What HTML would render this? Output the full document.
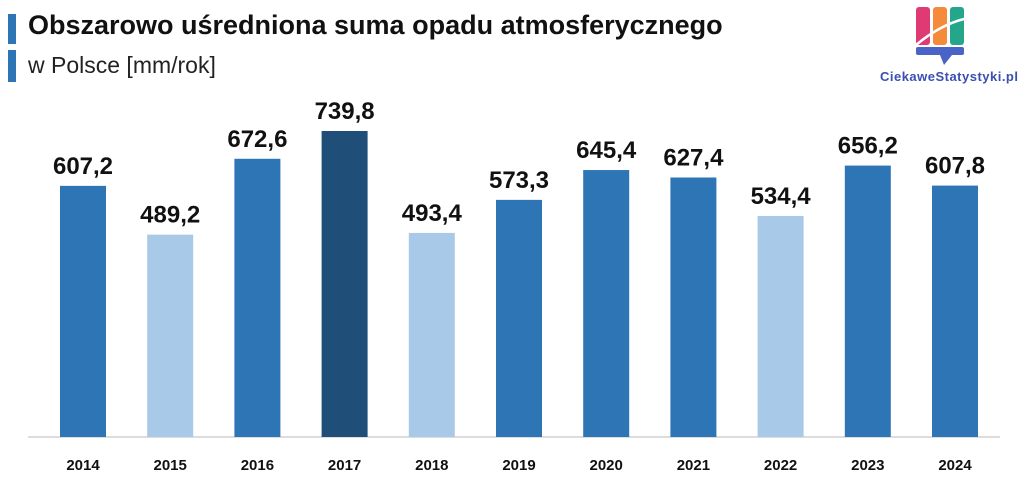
<!DOCTYPE html>
<html><head><meta charset="utf-8"><style>
body{margin:0;width:1024px;height:490px;background:#fff;overflow:hidden;font-family:"Liberation Sans",sans-serif;position:relative}
.t{position:absolute;left:28px;top:10px;font-size:27px;font-weight:bold;color:#111;white-space:nowrap}
.s{position:absolute;left:28px;top:52px;font-size:23px;color:#222}
.bar{position:absolute;left:8px;width:8px;background:#2e75b6}
</style></head><body>
<div class="bar" style="top:14px;height:30px"></div>
<div class="bar" style="top:50px;height:32px"></div>
<div class="t">Obszarowo uśredniona suma opadu atmosferycznego</div>
<div class="s">w Polsce [mm/rok]</div>
<svg style="position:absolute;left:876px;top:3px" width="146" height="90">
<rect x="40" y="4" width="14" height="38" rx="3" fill="#e03a75"/>
<rect x="57" y="4" width="14" height="38" rx="3" fill="#f58a3a"/>
<rect x="74" y="4" width="14" height="38" rx="3" fill="#25a58a"/>
<path d="M40 42 Q64 22 88 16" stroke="#fff" stroke-width="2.5" fill="none"/>
<rect x="40" y="44" width="48" height="8" rx="2" fill="#4a63c6"/>
<path d="M64 52 L76 52 L68 62Z" fill="#4a63c6"/>
<text x="4" y="78" font-size="13" font-weight="bold" fill="#3a4fb0" textLength="138" font-family="Liberation Sans,sans-serif">CiekaweStatystyki.pl</text>
</svg>
<svg id="c" style="position:absolute;left:0;top:0" width="1024" height="490"></svg>
<script>
const years=["2014","2015","2016","2017","2018","2019","2020","2021","2022","2023","2024"];
const values=[607.2,489.2,672.6,739.8,493.4,573.3,645.4,627.4,534.4,656.2,607.8];
const labels=["607,2","489,2","672,6","739,8","493,4","573,3","645,4","627,4","534,4","656,2","607,8"];
const shade=["m","l","m","d","l","m","m","m","l","m","m"];
const cols={m:"#2e75b6",l:"#a9c9e8",d:"#1f4e79"};
const svg=document.getElementById('c'),NS="http://www.w3.org/2000/svg";
const y0=437,k=306/739.8;
const x=i=>83+i*87.2;
const y=v=>y0-v*k;
function mk(t,a){const e=document.createElementNS(NS,t);for(const n in a)e.setAttribute(n,a[n]);svg.appendChild(e);return e;}
const ax=mk('line',{x1:28,x2:1000,y1:y0,y2:y0,stroke:'#bbb','stroke-width':1});


years.forEach((yr,i)=>{
 const r=mk('rect',{x:x(i)-23,y:y(values[i]),width:46,height:values[i]*k,fill:cols[shade[i]]});
 
 
 const t=mk('text',{x:x(i),y:y(values[i])-12,'text-anchor':'middle','font-size':24,'font-weight':'bold',fill:'#111','font-family':'Liberation Sans,sans-serif'});
 t.textContent=labels[i];
 
 
 const l=mk('text',{x:x(i),y:470,'text-anchor':'middle','font-size':15,'font-weight':'bold',fill:'#111','font-family':'Liberation Sans,sans-serif'});
 l.textContent=yr;
 
 
});
</script>
</body></html>
